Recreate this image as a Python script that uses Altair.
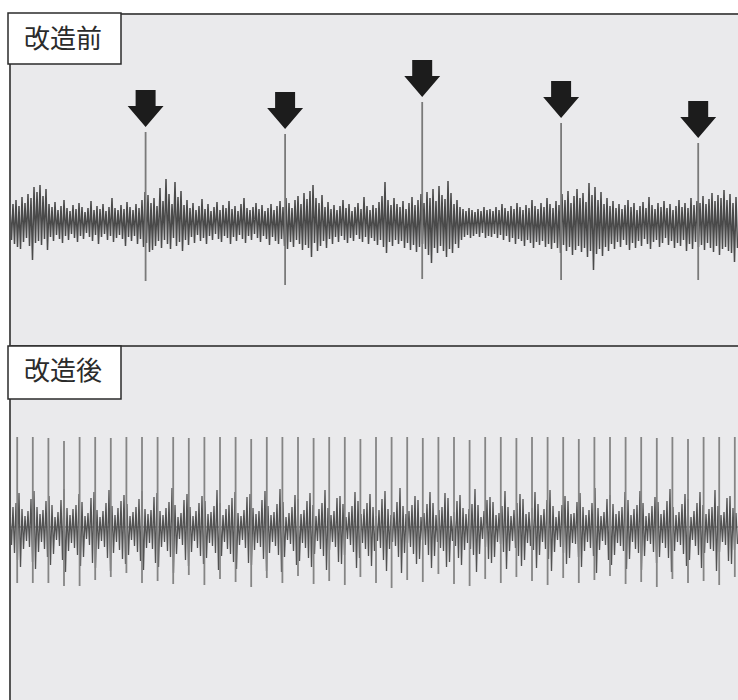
import altair as alt
import pandas as pd

# ---- panel labels ----
panel_labels = ["改造前", "改造後"]

# ---- before modification: noise envelope per sample (upper / lower peak) ----
hi_before = [
    14, 18, 22, 16, 25, 19, 28, 24, 35, 30,
    37, 26, 33, 18, 15, 20, 12, 16, 22, 14,
    11, 17, 13, 19, 15, 10, 14, 21, 12, 16,
    13, 18, 11, 15, 24, 14, 12, 17, 13, 20,
    15, 12, 18, 14, 22, 30, 27, 19, 24, 16,
    34, 21, 43, 28, 18, 40, 25, 31, 17, 22,
    14, 19, 12, 16, 23, 13, 18, 11, 15, 20,
    12, 17, 14, 21, 13, 16, 11, 18, 24, 14,
    12, 15, 19, 13, 17, 11, 14, 18, 12, 16,
    21, 15, 24, 19, 14, 22, 26, 18, 29, 23,
    31, 37, 24, 19, 27, 15, 20, 13, 17, 12,
    16, 22, 14, 18, 11, 15, 19, 13, 25, 16,
    12, 17, 14, 20, 26, 40, 22, 17, 24, 18,
    15, 21, 13, 19, 25, 17, 22, 28, 19, 30,
    24, 33, 21, 36, 27, 23, 41, 29, 18, 22,
    15, 13, 11, 14, 12, 10, 13, 11, 15, 12,
    13, 11, 15, 12, 18, 14, 11, 16, 13, 19,
    15, 12, 17, 14, 22, 16, 13, 19, 15, 24,
    18, 14, 21, 17, 28, 22, 31, 19, 26, 33,
    24, 29, 20, 39, 27, 35, 22, 30, 18, 24,
    16, 21, 14, 18, 13, 17, 22, 15, 19, 12,
    16, 20, 14, 25, 17, 13, 19, 15, 21, 14,
    18, 12, 16, 22, 15, 19, 14, 24, 17, 21,
    19, 26, 18, 23, 29, 21, 27, 24, 32, 22,
    28, 19, 25,
]
lo_before = [
    -18, -22, -25, -27, -20, -16, -24, -38, -21, -19,
    -23, -17, -28, -15, -19, -13, -17, -21, -14, -18,
    -12, -16, -20, -14, -17, -11, -15, -19, -13, -22,
    -15, -12, -18, -14, -20, -16, -13, -17, -24, -15,
    -19, -14, -22, -17, -25, -21, -30, -28, -24, -19,
    -26, -18, -22, -27, -16, -24, -20, -29, -18, -23,
    -15, -21, -13, -19, -16, -22, -14, -18, -12, -17,
    -20, -14, -16, -22, -15, -19, -13, -17, -21, -14,
    -18, -12, -16, -20, -14, -17, -23, -15, -19, -22,
    -17, -24, -27, -20, -25, -18, -22, -28, -23, -26,
    -35, -21, -29, -24, -19, -26, -17, -22, -15, -20,
    -14, -18, -21, -16, -19, -13, -17, -20, -15, -22,
    -16, -19, -23, -18, -25, -31, -20, -24, -18, -22,
    -19, -26, -21, -28, -23, -30, -25, -22, -27, -33,
    -41, -26, -31, -24, -29, -35, -27, -31, -22, -26,
    -18, -15, -13, -16, -14, -12, -15, -11, -16, -14,
    -15, -12, -16, -13, -18, -14, -20, -16, -22, -17,
    -19, -24, -18, -21, -26, -20, -23, -19, -25, -22,
    -27, -21, -26, -31, -23, -29, -25, -33, -28, -24,
    -30, -26, -35, -29, -48, -32, -27, -34, -25, -29,
    -22, -27, -20, -25, -18, -23, -28, -21, -26, -19,
    -24, -17, -22, -27, -20, -18, -25, -21, -16, -23,
    -19, -26, -21, -24, -18, -29, -22, -27, -20, -25,
    -23, -28, -21, -26, -30, -24, -33, -27, -25, -29,
    -31, -40, -26,
]
# irregular spikes (marked with arrows)
spike_t_before = [45.2, 91.7, 137.4, 183.7, 229.4]
spike_hi_before = [90, 88, 120, 99, 79]
spike_lo_before = [-59, -63, -57, -58, -58]

# ---- after modification ----
hi_after = [
    12, 20, 24, 34, 18, 11, 16, 28, 36, 20,
    13, 17, 26, 31, 22, 10, 15, 27, 38, 19,
    12, 18, 22, 33, 25, 11, 14, 29, 35, 17,
    10, 16, 24, 37, 21, 12, 19, 26, 32, 23,
    11, 15, 20, 28, 36, 18, 13, 17, 30, 34,
    16, 12, 19, 25, 39, 22, 10, 14, 27, 33,
    20, 11, 16, 24, 31, 26, 13, 15, 21, 37,
    24, 12, 18, 22, 29, 35, 14, 11, 17, 30,
    33, 19, 13, 16, 27, 36, 21, 12, 15, 23,
    38, 25, 10, 14, 20, 32, 28, 13, 17, 26,
    34, 22, 11, 18, 24, 37, 19, 12, 16, 29,
    31, 23, 10, 15, 21, 35, 26, 13, 18, 24,
    33, 20, 11, 17, 28, 36, 18, 12, 15, 25,
    39, 21, 13, 16, 22, 31, 27, 10, 14, 23,
    35, 24, 12, 17, 20, 34, 29, 11, 15, 26,
    32, 19, 13, 18, 23, 38, 22, 10, 16, 27,
    30, 25, 12, 14, 21, 36, 20, 11, 17, 24,
    33, 28, 13, 15, 19, 35, 23, 12, 18, 27,
    37, 21, 10, 16, 22, 31, 26, 13, 14, 25,
    34, 20, 12, 17, 24, 39, 19, 11, 15, 28,
    32, 23, 13, 16, 20, 35, 27, 12, 18, 22,
    36, 24, 11, 14, 21, 30, 25, 13, 17, 26,
    38, 20, 12, 15, 23, 33, 28, 10, 16, 24,
    35, 22, 13, 18, 20, 37, 21, 12, 15, 29,
    31, 19, 14,
]
lo_after = [
    -18, -26, -33, -40, -22, -14, -20, -35, -42, -25,
    -15, -22, -30, -38, -27, -13, -19, -33, -45, -24,
    -16, -21, -28, -39, -30, -12, -18, -36, -41, -22,
    -14, -20, -31, -44, -26, -15, -23, -32, -37, -28,
    -13, -19, -25, -34, -43, -21, -16, -22, -36, -40,
    -20, -15, -24, -30, -46, -27, -12, -18, -33, -39,
    -25, -14, -21, -29, -37, -31, -16, -19, -26, -43,
    -29, -15, -22, -27, -35, -42, -18, -13, -21, -36,
    -38, -23, -16, -20, -32, -44, -26, -15, -19, -28,
    -45, -30, -13, -17, -24, -38, -34, -16, -21, -31,
    -40, -27, -14, -22, -29, -43, -23, -15, -20, -35,
    -37, -28, -12, -18, -25, -41, -31, -16, -22, -29,
    -39, -24, -14, -21, -33, -44, -22, -15, -19, -30,
    -46, -26, -16, -20, -27, -37, -32, -13, -18, -28,
    -41, -29, -15, -21, -24, -40, -35, -14, -19, -31,
    -38, -23, -16, -22, -28, -45, -27, -12, -20, -32,
    -36, -30, -15, -17, -25, -42, -24, -14, -21, -29,
    -39, -33, -16, -19, -23, -41, -28, -15, -22, -32,
    -44, -25, -13, -20, -26, -37, -31, -16, -17, -30,
    -40, -24, -15, -21, -29, -46, -23, -14, -18, -33,
    -38, -28, -16, -19, -24, -42, -32, -15, -22, -26,
    -43, -29, -14, -17, -25, -36, -30, -16, -21, -31,
    -45, -24, -15, -18, -27, -39, -33, -13, -19, -28,
    -41, -26, -16, -22, -24, -44, -25, -15, -18, -34,
    -37, -23, -17,
]
# regular spikes
spike_t_after = [
    2.4, 7.6, 12.8, 18.0, 23.2, 28.4, 33.6, 38.8, 44.0, 49.2,
    54.4, 59.6, 64.8, 70.0, 75.2, 80.4, 85.6, 90.8, 96.0, 101.2,
    106.4, 111.6, 116.8, 122.0, 127.2, 132.4, 137.6, 142.8, 148.0, 153.2,
    158.4, 163.6, 168.8, 174.0, 179.2, 184.4, 189.6, 194.8, 200.0, 205.2,
    210.4, 215.6, 220.8, 226.0, 231.2, 236.4, 241.6,
]
spike_hi_after = [
    90, 90, 89, 86, 90, 90, 89, 90, 90, 90,
    90, 89, 90, 90, 90, 88, 90, 90, 90, 89,
    90, 90, 88, 90, 90, 90, 89, 90, 90, 87,
    90, 90, 89, 90, 90, 90, 88, 90, 90, 90,
    90, 89, 90, 88, 90, 90, 90,
]
spike_lo_after = [
    -56, -56, -56, -59, -59, -53, -50, -46, -56, -54,
    -57, -48, -58, -52, -55, -60, -51, -56, -49, -57,
    -54, -58, -50, -56, -61, -53, -55, -47, -57, -59,
    -52, -56, -50, -54, -58, -51, -56, -53, -49, -57,
    -55, -60, -52, -56, -54, -58, -50,
]


def trace(hi, lo):
    """Interleave upper and lower peaks into one oscillating trace."""
    rows = []
    for i, (a, b) in enumerate(zip(hi, lo)):
        rows.append({"t": i, "v": a})
        rows.append({"t": i + 0.5, "v": b})
    return pd.DataFrame(rows)


wave_before = trace(hi_before, lo_before)
wave_after = trace(hi_after, lo_after)
spikes_before = pd.DataFrame({"t": spike_t_before, "hi": spike_hi_before, "lo": spike_lo_before})
spikes_after = pd.DataFrame({"t": spike_t_after, "hi": spike_hi_after, "lo": spike_lo_after})

W, H = 738, 700
X0, TOP, MID = 10, 14, 346

x_scale = alt.Scale(domain=[0, 243], range=[X0, X0 + 729], nice=False, zero=False)
y_before = alt.Scale(domain=[-124, 208], range=[MID, TOP], nice=False, zero=False)
y_after = alt.Scale(domain=[-173, 181], range=[H, MID], nice=False, zero=False)

one = alt.Data(values=[{}])

# panel background and frame
background = alt.Chart(one).mark_rect(fill="#eaeaec").encode(
    x=alt.value(X0), x2=alt.value(W), y=alt.value(TOP), y2=alt.value(H)
)
frame_top = alt.Chart(one).mark_rule(color="#555555", strokeWidth=2).encode(
    x=alt.value(X0), x2=alt.value(W), y=alt.value(TOP)
)
frame_mid = alt.Chart(one).mark_rule(color="#555555", strokeWidth=2).encode(
    x=alt.value(X0), x2=alt.value(W), y=alt.value(MID)
)
frame_left = alt.Chart(one).mark_rule(color="#555555", strokeWidth=2).encode(
    x=alt.value(X0), y=alt.value(TOP), y2=alt.value(H)
)

# before: noisy trace, isolated spikes and arrows
line_before = alt.Chart(wave_before).mark_line(color="#4a4a4a", strokeWidth=1.5).encode(
    x=alt.X("t:Q", scale=x_scale, axis=None),
    y=alt.Y("v:Q", scale=y_before, axis=None),
)
rule_before = alt.Chart(spikes_before).mark_rule(color="#7a7a7a", strokeWidth=1.8).encode(
    x=alt.X("t:Q", scale=x_scale, axis=None),
    y=alt.Y("hi:Q", scale=y_before, axis=None),
    y2="lo:Q",
)
arrow_path = "M-0.54,-1L0.54,-1L0.54,-0.14L0.97,-0.14L0,1L-0.97,-0.14L-0.54,-0.14Z"
arrows = alt.Chart(spikes_before).mark_point(
    shape=arrow_path, size=1369, filled=True, color="#1c1c1c", opacity=1, strokeWidth=0, yOffset=-23.5
).encode(
    x=alt.X("t:Q", scale=x_scale, axis=None),
    y=alt.Y("hi:Q", scale=y_before, axis=None),
)

# after: baseline, periodic trace and spikes
baseline_after = alt.Chart(one).mark_rule(color="#6e6e6e", strokeWidth=1).encode(
    x=alt.value(X0), x2=alt.value(W),
    y=alt.datum(0, scale=y_after, axis=None),
)
line_after = alt.Chart(wave_after).mark_line(color="#525252", strokeWidth=1.3).encode(
    x=alt.X("t:Q", scale=x_scale, axis=None),
    y=alt.Y("v:Q", scale=y_after, axis=None),
)
rule_after = alt.Chart(spikes_after).mark_rule(color="#858585", strokeWidth=1.8).encode(
    x=alt.X("t:Q", scale=x_scale, axis=None),
    y=alt.Y("hi:Q", scale=y_after, axis=None),
    y2="lo:Q",
)

# label boxes
box_before = alt.Chart(one).mark_rect(fill="white", stroke="#2b2b2b", strokeWidth=1.5).encode(
    x=alt.value(8), x2=alt.value(121), y=alt.value(13), y2=alt.value(64)
)
box_after = alt.Chart(one).mark_rect(fill="white", stroke="#2b2b2b", strokeWidth=1.5).encode(
    x=alt.value(8), x2=alt.value(121), y=alt.value(MID), y2=alt.value(399)
)
label_style = dict(align="left", baseline="middle", font="Noto Sans CJK JP", fontSize=26, color="#2b2b2b")
text_before = alt.Chart(one).mark_text(**label_style).encode(
    x=alt.value(24), y=alt.value(40), text=alt.value(panel_labels[0])
)
text_after = alt.Chart(one).mark_text(**label_style).encode(
    x=alt.value(24), y=alt.value(372), text=alt.value(panel_labels[1])
)

chart = alt.layer(
    background,
    baseline_after,
    line_before,
    rule_before,
    arrows,
    line_after,
    rule_after,
    frame_top,
    frame_mid,
    frame_left,
    box_before,
    box_after,
    text_before,
    text_after,
).resolve_scale(
    y="independent"
).properties(
    width=W,
    height=H,
    padding=0,
    background="white",
    autosize=alt.AutoSizeParams(type="none"),
).configure_view(stroke=None)

chart.save("out.html", embed_options={"renderer": "svg", "actions": False})
